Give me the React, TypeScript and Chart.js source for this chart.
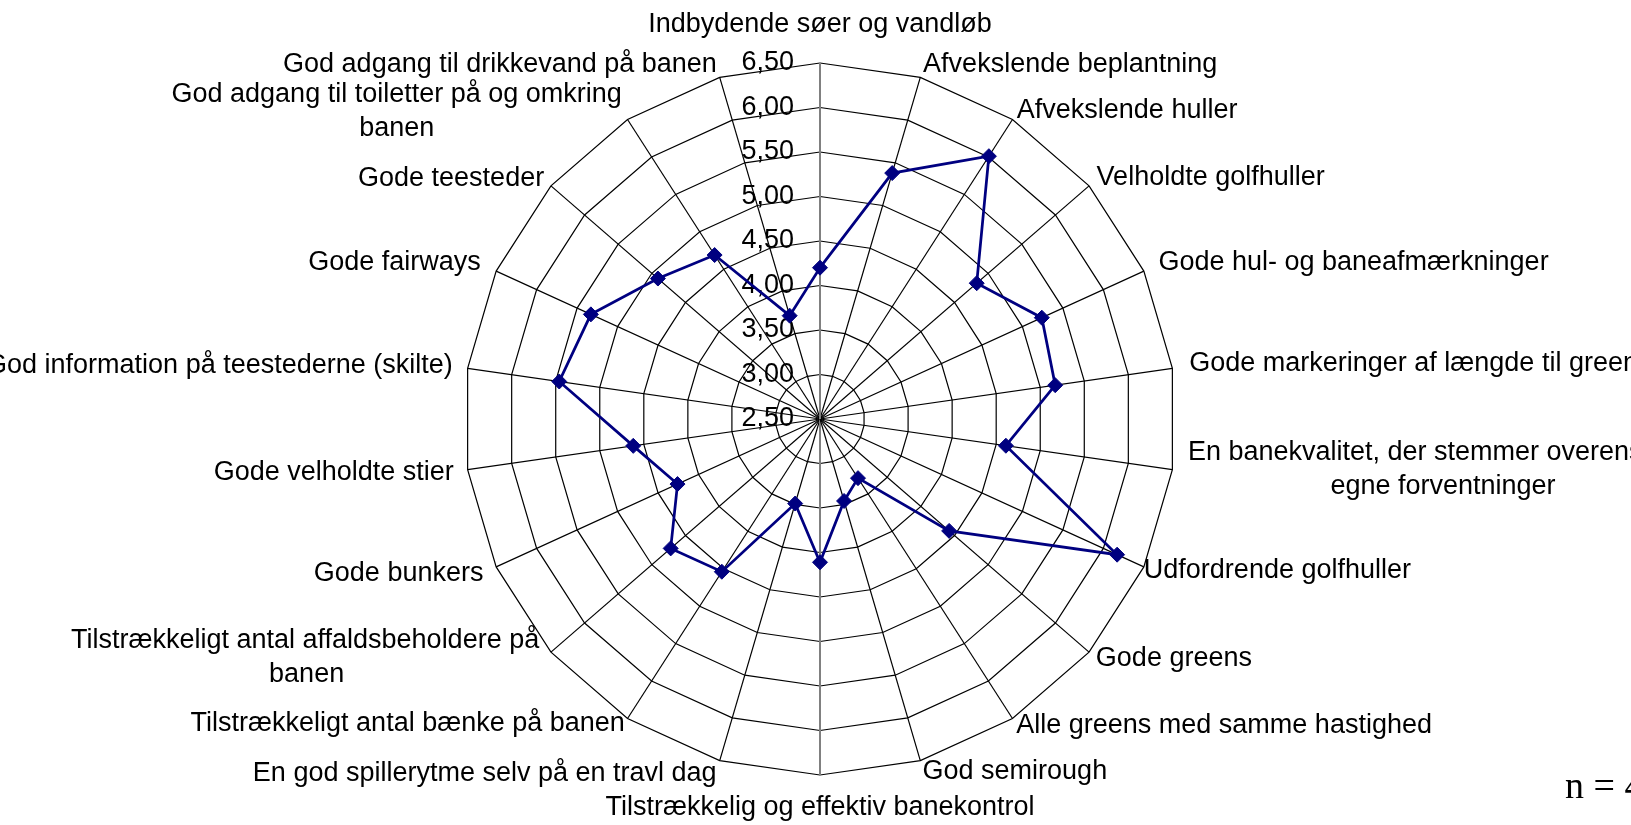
import { useEffect, useRef } from 'react';
import { Chart, registerables } from 'chart.js';

Chart.register(...registerables);

// ---------------- data ----------------
const CATEGORIES: (string | string[])[] = [
  'Indbydende søer og vandløb',
  'Afvekslende beplantning',
  'Afvekslende huller',
  'Velholdte golfhuller',
  'Gode hul- og baneafmærkninger',
  'Gode markeringer af længde til green',
  ['En banekvalitet, der stemmer overens med', 'egne forventninger'],
  'Udfordrende golfhuller',
  'Gode greens',
  'Alle greens med samme hastighed',
  'God semirough',
  'Tilstrækkelig og effektiv banekontrol',
  'En god spillerytme selv på en travl dag',
  'Tilstrækkeligt antal bænke på banen',
  ['Tilstrækkeligt antal affaldsbeholdere på', 'banen'],
  'Gode bunkers',
  'Gode velholdte stier',
  'God information på teestederne (skilte)',
  'Gode fairways',
  'Gode teesteder',
  ['God adgang til toiletter på og omkring', 'banen'],
  'God adgang til drikkevand på banen',
];

const SCORES: number[] = [
  4.2, 5.38, 6.01, 4.83, 5.24, 5.17, 4.61, 6.17, 4.42, 3.29, 3.46,
  4.11, 3.49, 4.54, 4.72, 4.26, 4.62, 5.46, 5.33, 4.91, 4.69, 3.71,
];

const TICK_VALUES: number[] = [2.5, 3.0, 3.5, 4.0, 4.5, 5.0, 5.5, 6.0, 6.5];
const TICK_LABELS: string[] = ['2,50', '3,00', '3,50', '4,00', '4,50', '5,00', '5,50', '6,00', '6,50'];

const AXIS_MIN = 2.5;
const AXIS_MAX = 6.5;
const AXIS_STEP = 0.5;

const NOTE_TEXT = 'n = 4';

// ---------------- styling / layout ----------------
const FONT_FAMILY = '"Liberation Sans", Arial, Helvetica, sans-serif';
const FONT_SIZE = 27;
const NAVY = '#000080';

// per point-label: padding from outer ring, line height (px), outward shift (px)
const LABEL_LAYOUT: { pad: number; lh: number; shift?: number }[] = [
  { pad: 22, lh: 32 },
  { pad: 10, lh: 6 },
  { pad: 8, lh: 4 },
  { pad: 10, lh: 4 },
  { pad: 16, lh: 4 },
  { pad: 17, lh: 4 },
  { pad: -242, lh: 34, shift: 255 },
  { pad: 0, lh: 8 },
  { pad: 9, lh: 2 },
  { pad: 7, lh: 2 },
  { pad: 8, lh: 6 },
  { pad: 16.5, lh: 32 },
  { pad: 11, lh: 4 },
  { pad: 5, lh: 2 },
  { pad: -44, lh: 34, shift: 46 },
  { pad: 14, lh: 2 },
  { pad: 14, lh: 1 },
  { pad: 15, lh: 1 },
  { pad: 17, lh: 4 },
  { pad: 9, lh: 2 },
  { pad: -31, lh: 34, shift: 20 },
  { pad: 10, lh: 6 },
];

const CANVAS_W = 2000;
const CANVAS_H = 820;
const CANVAS_LEFT = -180;
const CANVAS_TOP = 7;

let measureCtx: CanvasRenderingContext2D | null = null;
function getMeasure(): CanvasRenderingContext2D {
  if (!measureCtx) {
    measureCtx = document.createElement('canvas').getContext('2d')!;
  }
  measureCtx.font = `${FONT_SIZE}px ${FONT_FAMILY}`;
  return measureCtx;
}

function formatPointLabel(label: any, index: number) {
  const lines: string[] = Array.isArray(label) ? label : [String(label)];
  const n = CATEGORIES.length;
  const angle = (index * 360) / n;
  const rightSide = angle > 0 && angle < 180;
  const leftSide = angle > 180;
  if (!rightSide && !leftSide) return lines.length === 1 ? lines[0] : lines;
  const m = getMeasure();
  const spaceW = m.measureText(' ').width || 7.5;
  const widths = lines.map((l) => m.measureText(l).width);
  const maxW = Math.max(...widths);
  const shift = LABEL_LAYOUT[index]?.shift || 0;
  const out = lines.map((l, k) => {
    const extra = shift + (maxW - widths[k]) / 2;
    const count = Math.max(0, Math.round(extra / spaceW));
    const pad = ' '.repeat(count);
    return rightSide ? pad + l : l + pad;
  });
  return out.length === 1 ? out[0] : out;
}

const excelAxisPlugin = {
  id: 'excelAxis',
  beforeDatasetsDraw(chart: any) {
    const scale = chart.scales.r;
    const ctx = chart.ctx as CanvasRenderingContext2D;
    ctx.save();
    ctx.font = `${FONT_SIZE}px ${FONT_FAMILY}`;
    ctx.fillStyle = '#000';
    ctx.textAlign = 'right';
    ctx.textBaseline = 'middle';
    TICK_VALUES.forEach((v, i) => {
      const d = scale.getDistanceFromCenterForValue(v);
      ctx.fillText(TICK_LABELS[i], scale.xCenter - 26, scale.yCenter - d);
    });
    ctx.restore();
  },
  afterDraw(chart: any) {
    const scale = chart.scales.r;
    const ctx = chart.ctx as CanvasRenderingContext2D;
    ctx.save();
    ctx.font = '38px "Liberation Serif", "Times New Roman", serif';
    ctx.fillStyle = '#000';
    ctx.textAlign = 'left';
    ctx.textBaseline = 'alphabetic';
    ctx.fillText(NOTE_TEXT, scale.xCenter + 745, scale.yCenter + 379);
    ctx.restore();
  },
};

export default function App() {
  const ref = useRef<HTMLCanvasElement>(null);

  useEffect(() => {
    const canvas = ref.current;
    if (!canvas) return;
    const chart = new Chart(canvas, {
      type: 'radar',
      data: {
        labels: CATEGORIES as any,
        datasets: [
          {
            data: SCORES,
            borderColor: NAVY,
            borderWidth: 2.75,
            backgroundColor: NAVY,
            fill: false,
            pointStyle: 'rectRot',
            pointRadius: 7.5,
            pointHoverRadius: 7.5,
            pointBackgroundColor: NAVY,
            pointBorderColor: NAVY,
            pointBorderWidth: 1,
            tension: 0,
          },
        ],
      },
      options: {
        responsive: false,
        animation: false,
        devicePixelRatio: 1,
        layout: { padding: 0 },
        plugins: {
          legend: { display: false },
          tooltip: { enabled: false },
          title: { display: false },
        },
        scales: {
          r: {
            min: AXIS_MIN,
            max: AXIS_MAX,
            beginAtZero: false,
            startAngle: 0,
            ticks: { display: false, stepSize: AXIS_STEP },
            grid: { color: '#000000', lineWidth: 1.2 },
            angleLines: {
              display: true,
              color: (c: any) => (c.index === 0 || c.index === 11 ? '#808080' : '#000000'),
              lineWidth: (c: any) => (c.index === 0 || c.index === 11 ? 2 : 1.2),
            },
            pointLabels: {
              display: true,
              color: '#000000',
              font: (c: any) => ({
                family: FONT_FAMILY,
                size: FONT_SIZE,
                lineHeight: `${LABEL_LAYOUT[c.index]?.lh ?? 32}px`,
              }),
              padding: (c: any) => LABEL_LAYOUT[c.index]?.pad ?? 10,
              callback: (label: any, index: number) => formatPointLabel(label, index),
            },
          },
        },
      } as any,
      plugins: [excelAxisPlugin],
    });
    return () => chart.destroy();
  }, []);

  return (
    <div
      style={{
        position: 'absolute',
        left: 0,
        top: 0,
        width: 1631,
        height: 825,
        overflow: 'hidden',
        background: '#ffffff',
      }}
    >
      <canvas
        ref={ref}
        width={CANVAS_W}
        height={CANVAS_H}
        style={{
          position: 'absolute',
          left: CANVAS_LEFT,
          top: CANVAS_TOP,
          width: CANVAS_W,
          height: CANVAS_H,
        }}
      />
    </div>
  );
}
